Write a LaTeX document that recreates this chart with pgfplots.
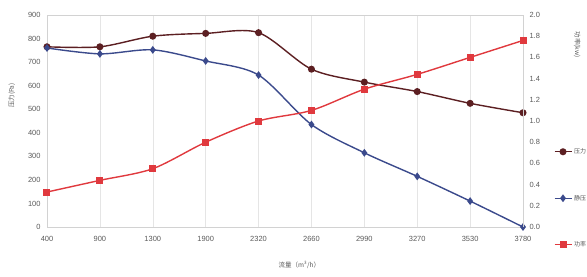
\documentclass[border=0pt]{standalone}
\usepackage{pgfplots}
\pgfplotsset{compat=1.18}
\usepackage{fontspec}
\setmainfont{Liberation Sans}
\newfontfamily\cjk{Noto Sans CJK SC}
\definecolor{cPres}{HTML}{5C1F22}
\definecolor{cStat}{HTML}{3B4A8C}
\definecolor{cPow}{HTML}{E0393E}
\definecolor{tickgray}{HTML}{595959}
\begin{document}
\begin{tikzpicture}[x=1bp,y=1bp]
\pgfplotsset{
  every axis/.append style={
    scale only axis, width=476bp, height=212bp, at={(0,0)}, anchor=south west,
    xmin=0, xmax=9, xtick={0,...,9},
    tick label style={font=\fontsize{7.5}{8}\selectfont, text=tickgray},
    major tick length=0pt,
    /pgf/number format/assume math mode=true,
    label style={font=\cjk\fontsize{6.5}{7}\selectfont, text=tickgray},
  },
  pres/.style={cPres, line width=1.4bp, mark=*, mark size=2.8bp, mark options={solid}},
  stat/.style={cStat, line width=1.4bp, mark=diamond*, mark size=2.8bp, mark options={solid}},
  pow/.style={cPow, line width=1.4bp, mark=square*, mark size=2.8bp, mark options={solid}},
}
\begin{axis}[
  ymin=0, ymax=900, ytick={0,100,...,900},
  xticklabels={400,900,1300,1900,2320,2660,2990,3270,3530,3780},
  xtick pos=bottom, ytick pos=left,
  xticklabel style={yshift=-6bp},
  yticklabel style={xshift=-3bp},
  xmajorgrids, grid style={gray!20},
  axis line style={gray!35},
  xlabel={流量（m\textsuperscript{3}/h）},
  ylabel={压力(Pa)},
  xlabel style={at={(axis description cs:0.53,-0.18)}, anchor=center},
  ylabel style={at={(axis description cs:-0.074,0.62)}, anchor=center},
]
\addplot[pres, smooth] coordinates {
(0,765) (1,765) (2,810) (3,822) (4,825) (5,670) (6,615) (7,575) (8,525) (9,485)};
\addplot[stat, smooth] coordinates {
(0,760) (1,735) (2,752) (3,705) (4,645) (5,435) (6,315) (7,215) (8,110) (9,0)};
\end{axis}
\begin{axis}[
  axis x line=none, axis y line*=right,
  ymin=0, ymax=2, ytick={0,0.2,...,2.0},
  yticklabel style={xshift=3bp, /pgf/number format/.cd, fixed, fixed zerofill, precision=1},
  y axis line style={gray!35},
  ylabel={功率(kw)},
  ylabel style={at={(axis description cs:1.114,0.86)}, anchor=center, rotate=180},
  legend style={at={(axis description cs:1.058,0.39)}, anchor=north west, draw=none, fill=none,
    font=\cjk\fontsize{6}{7}\selectfont, text=tickgray, row sep=36bp},
  legend cell align=left,
]
\addlegendimage{pres}
\addlegendentry{压力}
\addlegendimage{stat}
\addlegendentry{静压}
\addplot[pow, smooth] coordinates {
(0,0.33) (1,0.44) (2,0.55) (3,0.80) (4,1.00) (5,1.10) (6,1.30) (7,1.44) (8,1.60) (9,1.76)};
\addlegendentry{功率}
\end{axis}
\pgfresetboundingbox
\path[use as bounding box] (-47,-49) rectangle (540,227);
\end{tikzpicture}
\end{document}
